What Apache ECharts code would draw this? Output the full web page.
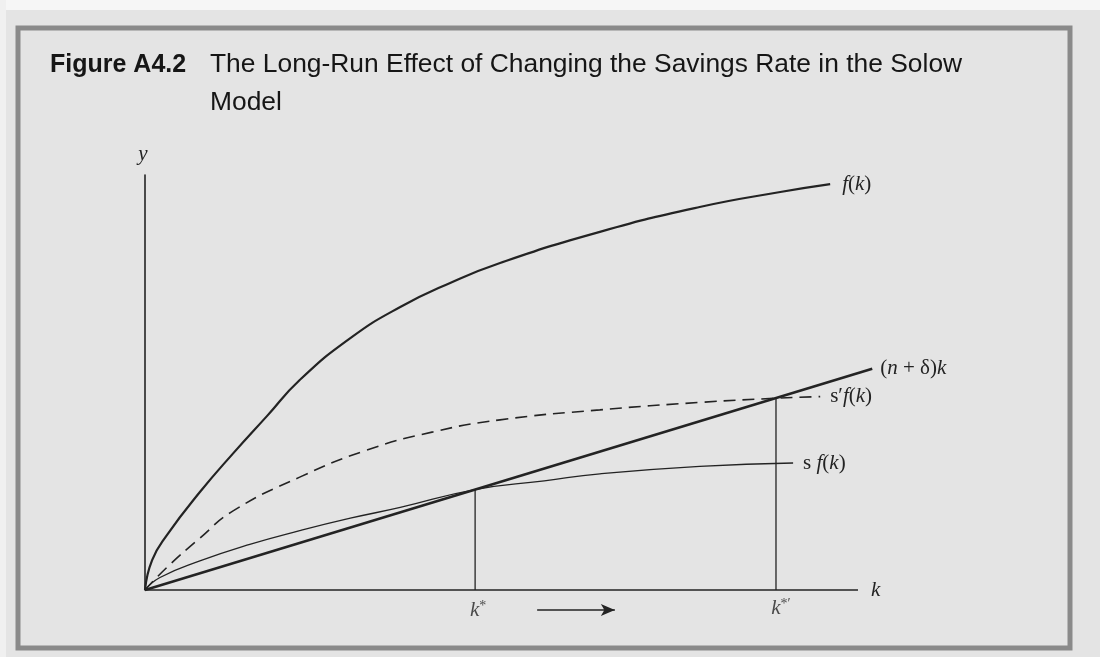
<!DOCTYPE html>
<html>
<head>
<meta charset="utf-8">
<script src="https://cdn.jsdelivr.net/npm/echarts@6/dist/echarts.min.js"></script>
<style>
html,body{margin:0;padding:0;background:#e4e4e4;}
#c{width:1100px;height:657px;}
</style>
</head>
<body>
<div id="c"></div>
<script>
// ---- data (abstract units: k on 0..100, y on 0..100) ----
const titleBold = 'Figure A4.2';
const titleLines = ['The Long-Run Effect of Changing the Savings Rate in the Solow', 'Model'];

const fk = [[0,0],[1.0,7.2],[3.1,13.3],[7.7,23.6],[12.3,32.8],[17.1,41.9],[21.7,50.6],[28.8,60.7],[35.8,68.2],[42.8,74.0],[49.8,78.8],[63.8,86.3],[77.8,92.3],[89.1,95.9],[96.1,97.8]];
const ndk = [[0,0],[102.0,53.3]];
const sfk = [[0,0],[2.1,3.0],[7.7,7.0],[14.7,11.0],[21.7,14.3],[28.8,17.3],[35.8,19.9],[46.3,24.2],[56.0,26.3],[63.8,28.0],[77.8,29.8],[90.9,30.6]];
const spfk = [[0,0],[3.1,5.5],[7.7,12.5],[12.3,19.0],[21.7,27.2],[31.1,33.7],[40.4,38.1],[49.8,41.0],[63.8,43.4],[77.8,45.2],[88.5,46.2],[94.7,46.6]];

const kAxis = [[0,0],[100,0]];
const kStar = 46.3, kStarY = 24.2;
const kStarP = 88.5, kStarPY = 46.2;
const shiftArrow = [[55.0,-4.8],[65.9,-4.8]];

const axisNames = {x:'k', y:'y'};
const curveLabels = {
  fk: '{i|f}({i|k})',
  ndk: '({i|n} + δ){i|k}',
  spfk: 's′{i|f}({i|k})',
  sfk: 's {i|f}({i|k})'
};
const starLabels = {k: '{i|k}{s|*}', kp: '{i|k}{s|*′}'};

// ---- styles ----
const ink = '#232323';
const serif = '"Liberation Serif","DejaVu Serif",serif';
const rich = {
  i:{fontStyle:'italic', fontFamily:serif, fontSize:21, color:ink},
  s:{fontFamily:serif, fontSize:14, color:ink, verticalAlign:'top', padding:[0,0,8,0]}
};
const lblBase = {fontFamily:serif, fontSize:21, color:ink, rich:rich};

const chart = echarts.init(document.getElementById('c'), null, {renderer:'canvas'});
chart.setOption({
  backgroundColor:'#e4e4e4',
  animation:false,
  grid:{left:145, top:175, width:741.5, height:415},
  xAxis:{type:'value', min:0, max:104,
    axisLine:{show:false}, axisTick:{show:false}, axisLabel:{show:false}, splitLine:{show:false}},
  yAxis:{type:'value', min:0, max:100, name:axisNames.y, nameLocation:'end', nameGap:10,
    nameTextStyle:{fontFamily:serif, fontStyle:'italic', fontSize:21, color:ink, align:'center', padding:[0,4,0,0]},
    axisLine:{lineStyle:{color:ink, width:1.6}}, axisTick:{show:false}, axisLabel:{show:false}, splitLine:{show:false}},
  graphic:[
    {type:'rect', silent:true, z:-10, shape:{x:0,y:0,width:1100,height:10}, style:{fill:'#f6f6f6'}},
    {type:'rect', silent:true, z:-10, shape:{x:0,y:0,width:6,height:657}, style:{fill:'#f0f0f0'}},
    {type:'rect', silent:true, shape:{x:18,y:28,width:1052,height:620}, style:{fill:'none', stroke:'#8a8a8a', lineWidth:5}},
    {type:'text', silent:true, style:{text:titleBold, x:50, y:65, font:'bold 25px "Liberation Sans", Arial, sans-serif', fill:'#161616', verticalAlign:'middle'}},
    {type:'text', silent:true, style:{text:titleLines[0], x:210, y:65, font:'26.4px "Liberation Sans", Arial, sans-serif', fill:'#161616', verticalAlign:'middle'}},
    {type:'text', silent:true, style:{text:titleLines[1], x:210, y:103, font:'26.4px "Liberation Sans", Arial, sans-serif', fill:'#161616', verticalAlign:'middle'}}
  ],
  series:[
    {name:'k axis', type:'line', data:kAxis, symbol:'none', clip:false,
      lineStyle:{color:ink, width:1.6},
      endLabel:Object.assign({show:true, distance:13, formatter:()=>'{i|'+axisNames.x+'}'}, lblBase)},
    {name:'f(k)', type:'line', data:fk, smooth:0.5, symbol:'none', clip:false,
      lineStyle:{color:ink, width:2.2},
      endLabel:Object.assign({show:true, distance:12, formatter:()=>curveLabels.fk}, lblBase)},
    {name:'(n+δ)k', type:'line', data:ndk, symbol:'none', clip:false,
      lineStyle:{color:ink, width:2.6},
      endLabel:Object.assign({show:true, distance:8, formatter:()=>curveLabels.ndk}, lblBase)},
    {name:"s'f(k)", type:'line', data:spfk, smooth:0.5, symbol:'none', clip:false,
      lineStyle:{color:ink, width:1.6, type:[12,7]},
      endLabel:Object.assign({show:true, distance:10, formatter:()=>curveLabels.spfk}, lblBase)},
    {name:'sf(k)', type:'line', data:sfk, smooth:0.5, symbol:'none', clip:false,
      lineStyle:{color:ink, width:1.3},
      endLabel:Object.assign({show:true, distance:10, formatter:()=>curveLabels.sfk}, lblBase)},
    {name:'k* line', type:'line', data:[[kStar,0],[kStar,kStarY]], symbol:'none', clip:false,
      lineStyle:{color:ink, width:1.3}},
    {name:"k*' line", type:'line', data:[[kStarP,0],[kStarP,kStarPY]], symbol:'none', clip:false,
      lineStyle:{color:ink, width:1.3}},
    {name:'star labels', type:'scatter', symbolSize:1, itemStyle:{color:'rgba(0,0,0,0)'}, clip:false,
      data:[
        {value:[kStar,0], label:Object.assign({show:true, position:'bottom', distance:9, offset:[3,0], formatter:starLabels.k}, lblBase)},
        {value:[kStarP,0], label:Object.assign({show:true, position:'bottom', distance:7, offset:[5,0], formatter:starLabels.kp}, lblBase)}
      ]},
    {name:'shift', type:'line', clip:false, lineStyle:{color:ink, width:1.5},
      data:[{value:shiftArrow[0], symbol:'none'},{value:shiftArrow[1], symbol:'arrow', symbolSize:[9,14], symbolRotate:-90, itemStyle:{color:ink}}]}
  ]
});
</script>
</body>
</html>
